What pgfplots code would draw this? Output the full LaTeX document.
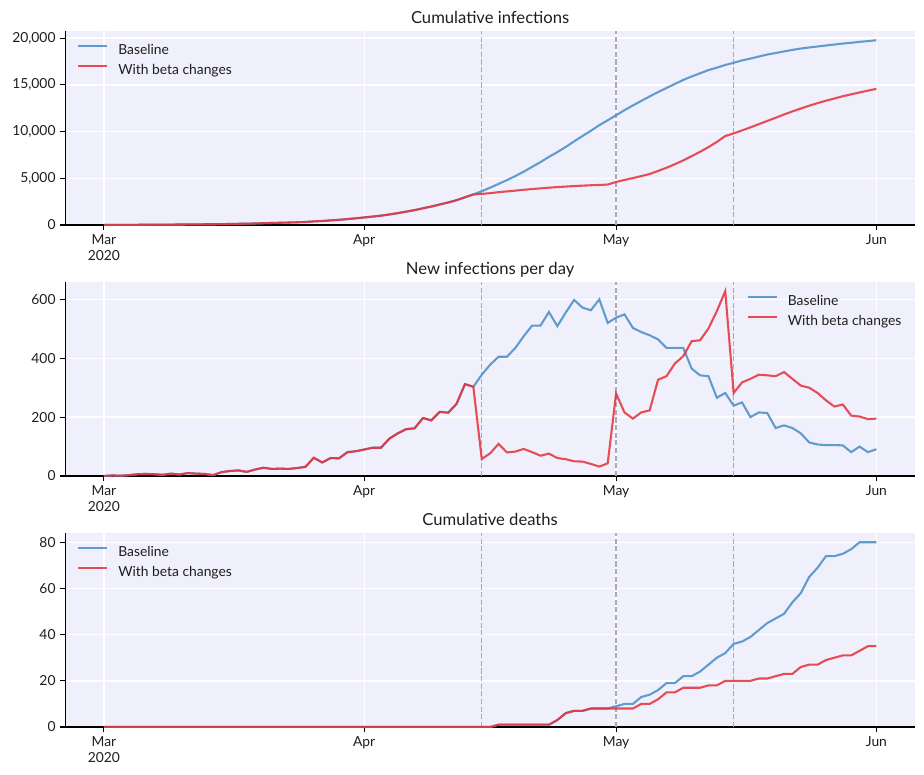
\documentclass[border=0pt]{standalone}
\usepackage{fontspec}
\setmainfont{Lato}
\usepackage{pgfplots}
\pgfplotsset{compat=1.18}
\usepackage{pgfplotstable}

\definecolor{bg}{RGB}{240,240,252}
\definecolor{cblue}{RGB}{89,151,204}
\definecolor{cred}{RGB}{228,52,60}
\definecolor{dashc}{RGB}{170,170,182}
\definecolor{txt}{RGB}{30,30,30}

\pgfplotstableread{
d nb nr cb cr db dr
0 0 0 10 10 0 0
1 2 2 12 12 0 0
2 1 1 13 13 0 0
3 3 3 16 16 0 0
4 6 6 22 22 0 0
5 7 7 29 29 0 0
6 6 6 35 35 0 0
7 4 4 39 39 0 0
8 8 8 47 47 0 0
9 5 5 52 52 0 0
10 10 10 62 62 0 0
11 8 8 70 70 0 0
12 7 7 77 77 0 0
13 3 3 80 80 0 0
14 13 13 93 93 0 0
15 17 17 110 110 0 0
16 19 19 129 129 0 0
17 14 14 143 143 0 0
18 22 22 165 165 0 0
19 28 28 193 193 0 0
20 24 24 217 217 0 0
21 25 25 242 242 0 0
22 24 24 266 266 0 0
23 27 27 293 293 0 0
24 31 31 324 324 0 0
25 62 62 386 386 0 0
26 46 46 432 432 0 0
27 61 61 493 493 0 0
28 60 60 553 553 0 0
29 81 81 634 634 0 0
30 84 84 718 718 0 0
31 90 90 808 808 0 0
32 96 96 904 904 0 0
33 96 96 1000 1000 0 0
34 127 127 1127 1127 0 0
35 145 145 1272 1272 0 0
36 159 159 1431 1431 0 0
37 162 162 1593 1593 0 0
38 197 197 1790 1790 0 0
39 189 189 1979 1979 0 0
40 218 218 2197 2197 0 0
41 215 215 2412 2412 0 0
42 245 245 2657 2657 0 0
43 312 312 2969 2969 0 0
44 303 303 3272 3272 0 0
45 344 58 3616 3330 0 0
46 378 77 3994 3407 0 0
47 405 109 4399 3516 1 1
48 405 80 4804 3596 1 1
49 435 83 5239 3679 1 1
50 475 92 5714 3771 1 1
51 511 81 6225 3852 1 1
52 511 69 6736 3921 1 1
53 557 76 7293 3997 1 1
54 509 61 7802 4058 3 3
55 555 57 8357 4115 6 6
56 598 50 8955 4165 7 7
57 572 49 9527 4214 7 7
58 563 41 10090 4255 8 8
59 600 32 10690 4287 8 8
60 520 43 11210 4330 8 8
61 538 280 11748 4610 9 8
62 549 216 12297 4826 10 8
63 503 195 12800 5021 10 8
64 489 216 13289 5237 13 10
65 478 223 13767 5460 14 10
66 464 327 14231 5787 16 12
67 435 339 14666 6126 19 15
68 435 382 15101 6508 19 15
69 435 407 15536 6915 22 17
70 365 458 15901 7373 22 17
71 342 461 16243 7834 24 17
72 339 501 16582 8335 27 18
73 266 560 16848 8895 30 18
74 282 628 17130 9523 32 20
75 239 282 17369 9805 36 20
76 250 318 17619 10123 37 20
77 200 330 17819 10453 39 20
78 216 344 18035 10797 42 21
79 214 342 18249 11139 45 21
80 163 339 18412 11478 47 22
81 172 353 18584 11831 49 23
82 163 330 18747 12161 54 23
83 145 307 18892 12468 58 26
84 114 300 19006 12768 65 27
85 107 282 19113 13050 69 27
86 105 257 19218 13307 74 29
87 105 236 19323 13543 74 30
88 104 243 19427 13786 75 31
89 81 205 19508 13991 77 31
90 100 202 19608 14193 80 33
91 81 193 19689 14386 80 35
92 91 195 19780 14581 80 35
}\data

\pgfplotsset{
  panel/.style={
    scale only axis, width=611.8bp, height=139.68bp,
    xmin=-4.6, xmax=96.6, ymin=0,
    axis background/.style={fill=bg},
    axis x line*=bottom, axis y line*=left,
    axis line style={black, line width=0.8bp},
    tick align=outside, major tick length=3.5bp,
    tick style={black, line width=0.8bp},
    xtick={0,31,61,92}, xticklabels={{Mar\\2020},Apr,May,Jun},
    xticklabel style={align=center, font=\fontsize{10}{11.3}\selectfont, text=txt},
    yticklabel style={font=\fontsize{10}{12}\selectfont, text=txt},
    grid=major, major grid style={white, line width=1bp},
    /pgf/number format/assume math mode=true,
    /pgf/number format/1000 sep={,},
    scaled y ticks=false,
    every axis title/.style={at={(0.5,1)}, anchor=base, yshift=5.5bp,
      font=\fontsize{12}{14}\selectfont, text=txt},
    legend cell align=left,
    legend image code/.code={\draw[##1] (0bp,3.5bp) -- (20.9bp,3.5bp); \path (28.1bp,3.5bp);},
    legend style={draw=none, fill=none, inner sep=0pt,
      font=\fontsize{10}{12}\selectfont, text=txt, row sep=4.4bp,
      nodes={inner sep=0pt, text height=7.5bp, text depth=2.5bp}},
  },
  vline/.style={dashc, line width=0.9bp, dash pattern=on 3.7bp off 1.8bp, forget plot},
  bl/.style={cblue, line width=1.5bp, opacity=0.95},
  rd/.style={cred, line width=1.5bp, opacity=0.87},
}

\begin{document}
\begin{tikzpicture}
% Panel 1
\begin{axis}[panel, at={(47.0bp,-162.0bp)}, anchor=south west,
  ymax=20770, ytick={0,5000,10000,15000,20000},
  title={Cumulative infections},
  legend style={at={(axis description cs:0,1)}, anchor=north west, xshift=8.4bp, yshift=-9.3bp}]
\addplot[vline] coordinates {(45,0) (45,20770)};
\addplot[vline] coordinates {(61,0) (61,20770)};
\addplot[vline] coordinates {(75,0) (75,20770)};
\addplot[bl] table[x=d, y=cb] {\data};
\addplot[rd] table[x=d, y=cr] {\data};
\legend{Baseline, With beta changes}
\end{axis}
% Panel 2
\begin{axis}[panel, at={(47.0bp,-342.72bp)}, anchor=south west,
  ymax=659, ytick={0,200,400,600},
  title={New infections per day},
  legend style={at={(axis description cs:1,1)}, anchor=north east, xshift=-9.6bp, yshift=-9.1bp}]
\addplot[vline] coordinates {(45,0) (45,659)};
\addplot[vline] coordinates {(61,0) (61,659)};
\addplot[vline] coordinates {(75,0) (75,659)};
\addplot[bl] table[x=d, y=nb] {\data};
\addplot[rd] table[x=d, y=nr] {\data};
\legend{Baseline, With beta changes}
\end{axis}
% Panel 3
\begin{axis}[panel, at={(47.0bp,-523.44bp)}, anchor=south west,
  ymax=84, ytick={0,20,40,60,80},
  title={Cumulative deaths},
  legend style={at={(axis description cs:0,1)}, anchor=north west, xshift=8.4bp, yshift=-9.0bp}]
\addplot[vline] coordinates {(45,0) (45,84)};
\addplot[vline] coordinates {(61,0) (61,84)};
\addplot[vline] coordinates {(75,0) (75,84)};
\addplot[bl] table[x=d, y=db] {\data};
\addplot[rd] table[x=d, y=dr] {\data};
\legend{Baseline, With beta changes}
\end{axis}
\pgfresetboundingbox
\path (0bp,0bp) rectangle (665.28bp,-558bp);
\end{tikzpicture}
\end{document}
